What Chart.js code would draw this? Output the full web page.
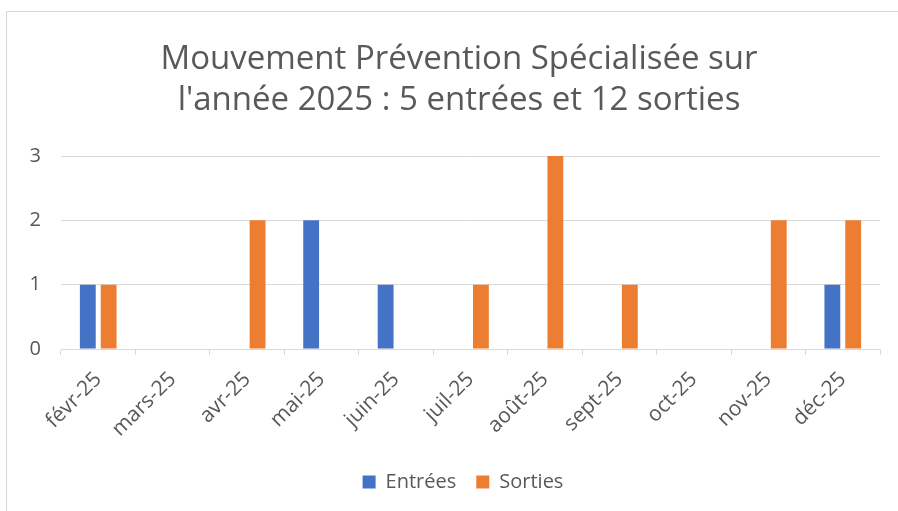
<!DOCTYPE html>
<html>
<head>
<meta charset="utf-8">
<script src="https://cdn.jsdelivr.net/npm/chart.js@4"></script>
<style>
  html, body { margin: 0; padding: 0; background: #fff; }
  #wrap { position: relative; width: 898px; height: 511px; overflow: hidden; }
  #frame { position: absolute; left: 6px; top: 11px; width: 900px; height: 520px; border: 1px solid #d9d9d9; box-sizing: border-box; }
  #chart { position: absolute; left: 0; top: 0; }
</style>
</head>
<body>
<div id="wrap">
  <div id="frame"></div>
  <canvas id="chart" width="898" height="511"></canvas>
</div>
<script>
// Chart data
const months = ['févr-25', 'mars-25', 'avr-25', 'mai-25', 'juin-25', 'juil-25', 'août-25', 'sept-25', 'oct-25', 'nov-25', 'déc-25'];
const entrees = [1, 0, 0, 2, 1, 0, 0, 0, 0, 0, 1];
const sorties = [1, 0, 2, 0, 0, 1, 3, 1, 0, 2, 2];
const titleLines = ['Mouvement Prévention Spécialisée sur', "l'année 2025 : 5 entrées et 12 sorties"];

const textColor = '#595959';
const gridColor = '#d9d9d9';
const fontFamily = "'Open Sans', 'Liberation Sans', sans-serif";

Chart.defaults.font.family = fontFamily;
Chart.defaults.color = textColor;

// Title drawn by hand so it can sit centred on the frame, not the plot
const titlePlugin = {
    id: 'frameTitle',
    afterLayout(chart) {
        // legend is centred on the frame too, nudge it right
        if (chart.legend) {
            chart.legend.left += 23;
            chart.legend.right += 23;
        }
    },
    afterDraw(chart) {
        const c = chart.ctx;
        c.save();
        c.fillStyle = textColor;
        c.font = '33px ' + fontFamily;
        c.textAlign = 'center';
        c.textBaseline = 'middle';
        titleLines.forEach((line, i) => {
            c.fillText(line, 459, 60 + i * 41);
        });
        c.restore();
    }
};

const ctx = document.getElementById('chart').getContext('2d');
new Chart(ctx, {
    type: 'bar',
    data: {
        labels: months,
        datasets: [
            {
                label: 'Entrées',
                data: entrees,
                backgroundColor: '#4472C4',
                categoryPercentage: 0.56,
                barPercentage: 0.76
            },
            {
                label: 'Sorties',
                data: sorties,
                backgroundColor: '#ED7D31',
                categoryPercentage: 0.56,
                barPercentage: 0.76
            }
        ]
    },
    plugins: [titlePlugin],
    options: {
        responsive: false,
        animation: false,
        layout: {
            padding: { left: 0, right: 18, top: 156, bottom: 9 }
        },
        plugins: {
            legend: {
                position: 'bottom',
                labels: {
                    boxWidth: 13,
                    boxHeight: 13,
                    padding: 20,
                    color: textColor,
                    font: { size: 20 }
                }
            },
            tooltip: { enabled: false }
        },
        scales: {
            x: {
                grid: {
                    offset: true,
                    drawOnChartArea: false,
                    drawTicks: true,
                    tickLength: 6,
                    color: gridColor
                },
                border: { display: true, color: gridColor },
                ticks: {
                    minRotation: 45,
                    maxRotation: 45,
                    color: textColor,
                    font: { size: 21 },
                    padding: 12
                },
                afterFit: function(scale) { scale.height = 103; }
            },
            y: {
                min: 0,
                max: 3,
                ticks: {
                    stepSize: 1,
                    color: textColor,
                    font: { size: 20 },
                    padding: 20
                },
                grid: { color: gridColor, drawTicks: false },
                border: { display: false },
                afterFit: function(scale) { scale.width = 61; }
            }
        }
    }
});
</script>
</body>
</html>
